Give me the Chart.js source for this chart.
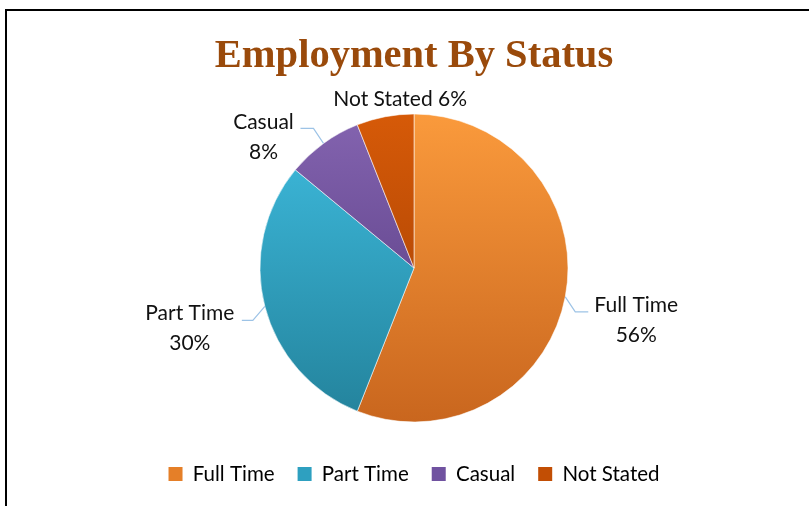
<!DOCTYPE html>
<html>
<head>
<meta charset="utf-8">
<script src="https://cdn.jsdelivr.net/npm/chart.js@4"></script>
<style>
  html, body { margin: 0; padding: 0; background: #fff; overflow: hidden; }
  #wrap { position: relative; width: 809px; height: 506px; }
</style>
</head>
<body>
<div id="wrap"><canvas id="statusChart"></canvas></div>
<script>
const categories = ['Full Time', 'Part Time', 'Casual', 'Not Stated'];
const shares = [56, 30, 8, 6];
const topColors = ['#FA9A3C', '#3FBDE0', '#8464B0', '#D65A08'];
const bottomColors = ['#C9661E', '#23829B', '#50357A', '#9E3C02'];
const legendColors = ['#E57F28', '#2EA0C0', '#7052A0', '#C24E04'];

const PIE_RADIUS = 154;

// where each data label sits, relative to the slice edge at its middle angle
const labelLayout = [
    { elbow: [10, 15], end: [23, 15], text: [71, 8], twoLines: true },
    { elbow: [-12, 14], end: [-23, 14], text: [-75, 7], twoLines: true },
    { elbow: [-10, -15], end: [-23, -15], text: [-60, -21], twoLines: true },
    { elbow: null, end: null, text: [15, -17], twoLines: false }
];

function sliceGradient(context) {
    const chart = context.chart;
    const area = chart.chartArea;
    const i = context.dataIndex;
    if (!area) return topColors[i];
    const cy = (area.top + area.bottom) / 2;
    const g = chart.ctx.createLinearGradient(0, cy - PIE_RADIUS, 0, cy + PIE_RADIUS);
    g.addColorStop(0, topColors[i]);
    g.addColorStop(1, bottomColors[i]);
    return g;
}

const frame = {
    id: 'frame',
    afterDraw(chart) {
        const ctx = chart.ctx;
        ctx.save();
        ctx.strokeStyle = '#000';
        ctx.lineWidth = 2;
        ctx.strokeRect(6, 10, 900, 600);
        ctx.restore();
    }
};

const sliceLabels = {
    id: 'sliceLabels',
    afterDatasetsDraw(chart) {
        const ctx = chart.ctx;
        const arcs = chart.getDatasetMeta(0).data;
        ctx.save();
        ctx.font = '21px Lato';
        ctx.fillStyle = '#111';
        ctx.textAlign = 'center';
        ctx.textBaseline = 'middle';
        arcs.forEach((arc, i) => {
            const mid = (arc.startAngle + arc.endAngle) / 2;
            const ex = arc.x + arc.outerRadius * Math.cos(mid);
            const ey = arc.y + arc.outerRadius * Math.sin(mid);
            const lay = labelLayout[i];
            if (lay.elbow) {
                ctx.beginPath();
                ctx.strokeStyle = '#9DC3E6';
                ctx.lineWidth = 1.2;
                ctx.moveTo(ex, ey);
                ctx.lineTo(ex + lay.elbow[0], ey + lay.elbow[1]);
                ctx.lineTo(ex + lay.end[0], ey + lay.end[1]);
                ctx.stroke();
            }
            const tx = ex + lay.text[0];
            const ty = ey + lay.text[1];
            const pct = shares[i] + '%';
            if (lay.twoLines) {
                ctx.fillText(categories[i], tx, ty);
                ctx.fillText(pct, tx, ty + 30);
            } else {
                ctx.fillText(categories[i] + ' ' + pct, tx, ty);
            }
        });
        ctx.restore();
    }
};

new Chart(document.getElementById('statusChart'), {
    type: 'pie',
    data: {
        labels: categories,
        datasets: [{
            data: shares,
            backgroundColor: sliceGradient,
            borderColor: 'rgba(255,255,255,0.55)',
            borderWidth: 1,
            radius: PIE_RADIUS
        }]
    },
    options: {
        responsive: true,
        maintainAspectRatio: false,
        animation: false,
        layout: { padding: { top: 0, bottom: 11.75, left: 19, right: 0 } },
        plugins: {
            title: {
                display: true,
                text: 'Employment By Status',
                color: '#9A4A0B',
                font: { family: 'Liberation Serif', weight: 'bold', size: 40.5 },
                padding: { top: 32.2, bottom: 14.45 }
            },
            legend: {
                position: 'bottom',
                labels: {
                    font: { family: 'Lato', size: 20.5 },
                    color: '#111',
                    boxWidth: 14,
                    boxHeight: 14,
                    padding: 23,
                    generateLabels(chart) {
                        return categories.map((c, i) => ({
                            text: c,
                            fillStyle: legendColors[i],
                            strokeStyle: legendColors[i],
                            lineWidth: 0,
                            index: i,
                            hidden: false
                        }));
                    }
                }
            },
            tooltip: { enabled: false }
        }
    },
    plugins: [sliceLabels, frame]
});
</script>
</body>
</html>
